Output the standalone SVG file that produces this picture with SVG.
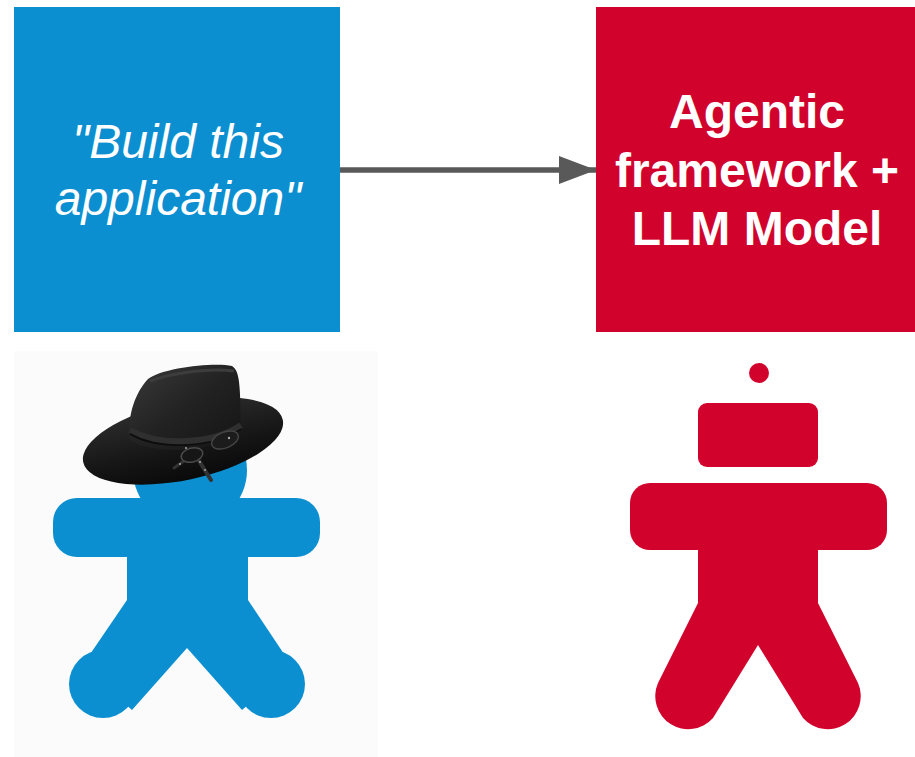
<svg xmlns="http://www.w3.org/2000/svg" width="915" height="757" viewBox="0 0 915 757">
  <style>
    .blue { fill: #0b8fd0; }
    .red { fill: #d1032d; }
    .prompt { font-family: "Liberation Sans", Arial, sans-serif; font-size: 48px; font-style: italic; fill: #ffffff; text-anchor: middle; }
    .agent { font-family: "Liberation Sans", Arial, sans-serif; font-size: 48px; font-weight: bold; fill: #ffffff; text-anchor: middle; }
    .link { stroke: #595959; stroke-width: 5.5; fill: none; }
  </style>
  <defs>
    <marker id="arrowhead" markerUnits="userSpaceOnUse" markerWidth="37" markerHeight="28" refX="37" refY="14" orient="auto">
      <path d="M0,0 L37,14 L0,28 Z" fill="#595959"/>
    </marker>
    <linearGradient id="crownShade" x1="0" y1="0" x2="1" y2="1">
      <stop offset="0" stop-color="#3a3a3a"/>
      <stop offset="0.5" stop-color="#222222"/>
      <stop offset="1" stop-color="#141414"/>
    </linearGradient>
    <linearGradient id="brimShade" x1="0" y1="0" x2="0" y2="1">
      <stop offset="0" stop-color="#2c2c2c"/>
      <stop offset="0.6" stop-color="#161616"/>
      <stop offset="1" stop-color="#0a0a0a"/>
    </linearGradient>
  </defs>

  <rect width="915" height="757" fill="#ffffff"/>

  <!-- prompt box -->
  <g id="node-prompt">
    <rect class="blue" x="14" y="7" width="326" height="325"/>
    <text class="prompt" x="178" y="158">"Build this</text>
    <text class="prompt" x="178" y="215">application"</text>
  </g>

  <!-- agent box -->
  <g id="node-agent">
    <rect class="red" x="596" y="7" width="319" height="325"/>
    <text class="agent" x="757" y="128">Agentic</text>
    <text class="agent" x="757" y="187">framework +</text>
    <text class="agent" x="757" y="245">LLM Model</text>
  </g>

  <g id="connectors">
    <line class="link" x1="340" y1="170" x2="596" y2="170" marker-end="url(#arrowhead)"/>
  </g>

  <!-- human figure wearing a hat -->
  <g id="figure-human">
    <rect x="14" y="351" width="364" height="406" fill="#fbfbfb"/>
    <g class="blue">
      <circle cx="190" cy="470" r="57"/>
      <rect x="53" y="498" width="267" height="59" rx="24"/>
      <rect x="127" y="540" width="121" height="70"/>
      <path d="M127,600 L248,600 L292,666 L242,710 L187,648 L132,710 L82,666 Z"/>
      <circle cx="103" cy="684" r="34"/>
      <circle cx="271" cy="684" r="34"/>
    </g>
    <g id="hat">
      <ellipse cx="183" cy="441" rx="102" ry="39" transform="rotate(-12 183 441)" fill="url(#brimShade)"/>
      <path d="M130,440 C127,414 136,392 148,379 C162,368 214,362 232,366 C241,371 240,392 241,433 C214,452 156,456 130,440 Z" fill="url(#crownShade)"/>
      <path d="M150,381 C175,372 210,368 234,371" stroke="#3d3d3d" stroke-width="3" fill="none"/>
      <path d="M130,430 C160,447 214,444 241,425" stroke="#2f2f2f" stroke-width="6" fill="none"/>
      <path d="M130,434 C160,451 214,448 241,429" stroke="#0c0c0c" stroke-width="1.5" fill="none"/>
      <!-- band bow -->
      <ellipse cx="225" cy="440" rx="14" ry="8" transform="rotate(-22 225 440)" fill="#1c1c1c" stroke="#444444" stroke-width="1.5"/>
      <path d="M196,456 L211,480" stroke="#333333" stroke-width="4" stroke-linecap="round"/>
      <path d="M188,458 L174,468" stroke="#333333" stroke-width="3" stroke-linecap="round"/>
      <ellipse cx="192" cy="455" rx="11" ry="7" transform="rotate(-15 192 455)" fill="#161616" stroke="#4a4a4a" stroke-width="1.5"/>
      <g fill="#a8a8a8">
        <circle cx="229" cy="438" r="1.2"/>
        <circle cx="200" cy="462" r="1"/>
        <circle cx="205" cy="470" r="1"/>
        <circle cx="180" cy="464" r="1"/>
        <circle cx="186" cy="448" r="1"/>
      </g>
    </g>
  </g>

  <!-- robot figure -->
  <g id="figure-robot" class="red">
    <circle cx="759" cy="373" r="10"/>
    <rect x="698" y="403" width="120" height="64" rx="9"/>
    <rect x="630" y="483" width="257" height="67" rx="20"/>
    <path d="M698,540 L818,540 L818,603 L858,683 A33 33 0 0 1 803,718 L758,645 L713,718 A33 33 0 0 1 658,683 L698,603 Z"/>
  </g>
</svg>
